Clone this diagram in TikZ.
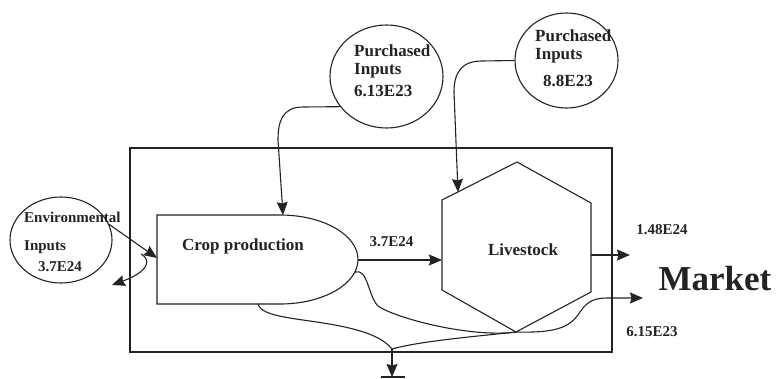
\documentclass[tikz,border=0pt]{standalone}
\usepackage{fontspec}
\setmainfont{Liberation Serif}
\usetikzlibrary{positioning, arrows.meta, shapes.geometric, calc}
\definecolor{inkGray}{RGB}{35, 35, 35}

\begin{document}
\begin{tikzpicture}[
    x=1pt, y=-1pt,
    every node/.style={font=\bfseries, text=inkGray, inner sep=0pt},
    source/.style={ellipse, draw=inkGray, line width=1.1pt},
    flow/.style={line width=1.1pt, draw=inkGray},
    arrow/.style={flow, -{Stealth[length=13pt, width=11pt, inset=1.5pt]}},
    value/.style={font=\fontsize{15}{18}\selectfont\bfseries},
    intext/.style={align=left, anchor=north west, font=\fontsize{17}{18}\selectfont\bfseries}
]
\useasboundingbox (0,0) rectangle (778,379);

% --- System boundary ------------------------------------------------------
\draw[flow] (130,148) rectangle (612,352);

% --- Sources (circles) ----------------------------------------------------
\node[source, minimum width=102pt, minimum height=86pt] (env) at (61,240) {};
\node[intext, font=\fontsize{15}{21}\selectfont\bfseries] (envText) at (24,212)
    {Environmental\\[7pt]Inputs\\\hspace*{14pt}3.7E24};
\node[source, minimum width=113pt, minimum height=103pt] (pur1) at (386.5,76.5) {};
\node[intext] (pur1Text) at (354,44.5) {Purchased\\Inputs\\[4pt]6.13E23};
\node[source, minimum width=103pt, minimum height=95pt] (pur2) at (566.5,60.5) {};
\node[intext] (pur2Text) at (535,29.5) {Purchased\\Inputs\\[9pt]\hspace*{8pt}8.8E23};

% --- Crop production (box with rounded nose) ------------------------------
\draw[flow] (157,215) -- (280,215)
    arc[start angle=90, end angle=-90, x radius=78pt, y radius=44.5pt]
    -- (157,304) -- cycle;
\node[font=\fontsize{17}{20}\selectfont\bfseries] (crop) at (243,246) {Crop production};
\coordinate (cropIn) at (157,258);
\coordinate (cropTop) at (283,215);
\coordinate (cropTip) at (358,260);
\coordinate (cropTipLow) at (355,272);
\coordinate (cropBot) at (258,304);

% --- Livestock (hexagon) --------------------------------------------------
\draw[flow] (442,200) -- (517,162) -- (591,203) -- (591,292) -- (516,332) -- (442,290) -- cycle;
\node[font=\fontsize{17}{20}\selectfont\bfseries] (live) at (523,250) {Livestock};
\coordinate (liveIn) at (442,260);
\coordinate (liveTop) at (458,192);
\coordinate (liveOut) at (591,255);
\coordinate (liveBot) at (516,332);

% --- Market and sink ------------------------------------------------------
\node[font=\fontsize{35}{40}\selectfont\bfseries] (market) at (715,279) {Market};
\coordinate (mktHigh) at (630,255);
\coordinate (mktLow) at (643,298);
\coordinate (leak) at (112,285);
\coordinate (loopStart) at (141,254);
\coordinate (sink) at (392,349);
\coordinate (sinkTip) at (392,377);
\coordinate (sinkL) at (381,377);
\coordinate (sinkR) at (405,377);

% --- Arrows ---------------------------------------------------------------
\draw[arrow] (env.18) -- (cropIn);
\draw[arrow] (loopStart) .. controls (152,260) and (148,272) .. (leak);
\draw[arrow] (pur1.213) -- (303,107) .. controls (282,107) and (278,122) .. (278,140) -- (cropTop);
\draw[arrow] (pur2.west) -- (482,61) .. controls (462,61) and (454,72) .. (454,92) -- (liveTop);
\draw[arrow] (cropTip) -- node[value, pos=0.4, above=13pt]{3.7E24} (liveIn);
\draw[arrow] (liveOut) -- (mktHigh);
\node[value] (outHigh) at (662,230) {1.48E24};
% Lower flows to sink and market
\draw[flow] (cropTipLow) .. controls (368,268) and (368,296) .. (378,306)
    .. controls (395,318) and (470,338) .. (liveBot);
\draw[flow] (cropBot) .. controls (262,318) and (300,318) .. (340,326)
    .. controls (370,332) and (385,340) .. (sink);
\draw[flow] (sink) .. controls (420,341) and (480,336) .. (liveBot);
\draw[arrow] (liveBot) .. controls (555,333) and (570,328) .. (580,312)
    .. controls (588,300) and (596,298) .. (608,298) -- (mktLow);
\node[value] (outLow) at (652,332) {6.15E23};
\draw[arrow] (sink) -- (sinkTip);
\draw[flow] (sinkL) -- (sinkR);

\end{tikzpicture}
\end{document}
